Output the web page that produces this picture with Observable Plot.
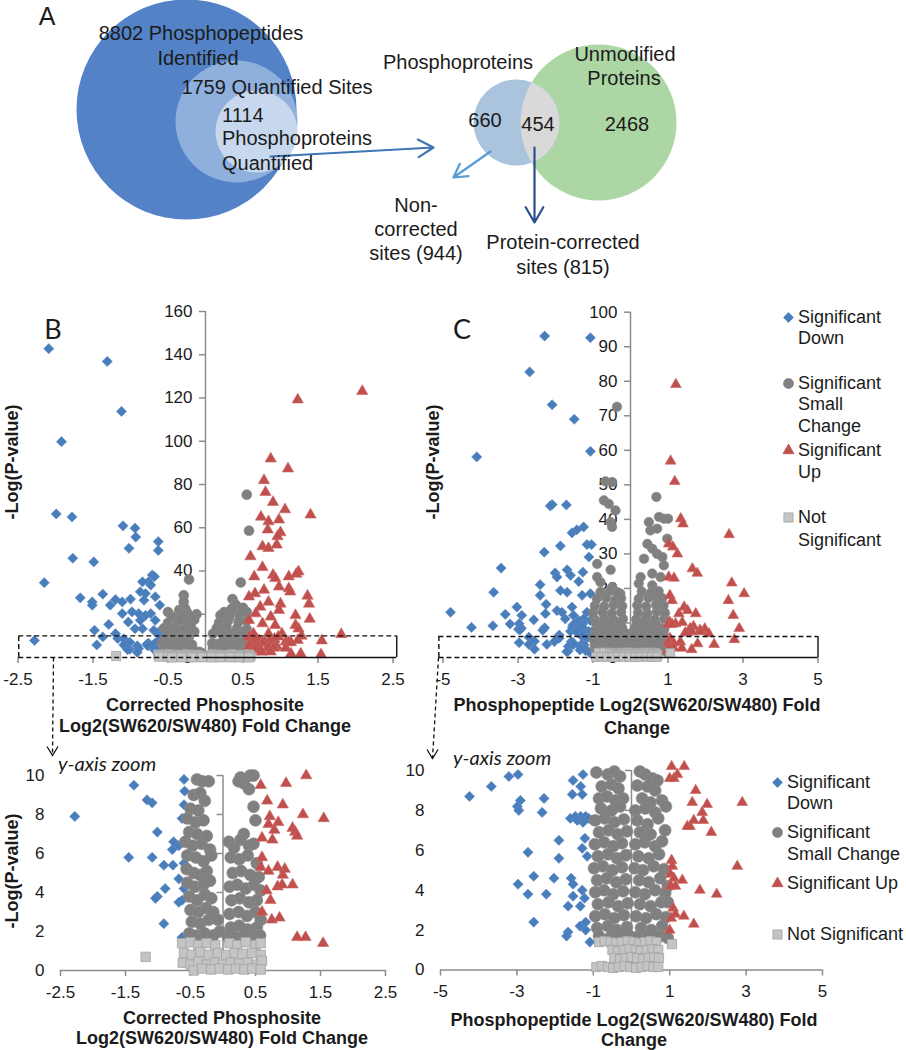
<!DOCTYPE html>
<html><head><meta charset="utf-8">
<script src="https://cdn.jsdelivr.net/npm/d3@7"></script>
<script src="https://cdn.jsdelivr.net/npm/@observablehq/plot@0.6"></script>
<style>
body{margin:0;background:#fff;}
#root{position:relative;width:906px;height:1050px;overflow:hidden;background:#fff;font-family:"Liberation Sans",Arial,sans-serif;color:#1b1b1b;}
.lbl{position:absolute;white-space:nowrap;line-height:1;}
</style></head><body><div id="root"></div>
<script>
// ---------------- DATA ----------------
// Panel A counts
const venn1Labels = ["Phosphopeptides Identified", "Quantified Sites", "Phosphoproteins Quantified"];
const venn1Counts = [8802, 1759, 1114];
const venn2Regions = ["Phosphoproteins only", "Phosphoproteins & Unmodified Proteins", "Unmodified Proteins only"];
const venn2Counts = [660, 454, 2468];
const siteGroups = ["Non-corrected sites", "Protein-corrected sites"];
const siteCounts = [944, 815];

// Category names (legend)
const categories = ["Significant Down", "Significant Small Change", "Significant Up", "Not Significant"];

// Tick labels
const B_xTicks = [-2.5, -1.5, -0.5, 0.5, 1.5, 2.5];
const B_yTicks = [0, 20, 40, 60, 80, 100, 120, 140, 160];
const C_xTicks = [-5, -3, -1, 1, 3, 5];
const C_yTicks = [0, 10, 20, 30, 40, 50, 60, 70, 80, 90, 100];
const zoom_yTicks = [0, 2, 4, 6, 8, 10];

// Panel B: corrected phosphosite [log2 fold change, -log(p)]
const B_down = [
[-2.09,142.8],[-1.31,136.9],[-1.12,113.8],[-1.92,99.8],[-1.99,66.4],[-1.78,65.0],[-1.10,60.9],[-0.94,59.8],[-0.93,55.7],[-1.02,50.5],
[-0.63,53.6],[-0.63,49.5],[-1.77,45.9],[-1.49,44.2],[-2.15,34.6],[-1.67,27.6],[-1.51,25.7],[-1.51,24.2],[-1.37,29.3],[-1.27,24.2],
[-1.20,26.8],[-1.11,25.7],[-1.00,27.0],[-0.87,30.4],[-0.80,29.6],[-0.82,26.5],[-0.67,28.1],[-0.76,35.0],[-0.84,35.0],[-0.71,38.1],
[-0.68,37.4],[-0.73,33.5],[-1.11,20.3],[-0.98,21.1],[-0.89,20.3],[-0.80,19.5],[-0.73,20.3],[-1.03,16.4],[-0.94,13.3],[-0.87,17.2],
[-0.84,13.3],[-0.67,17.2],[-0.61,24.2],[-1.29,15.3],[-1.48,12.6],[-1.20,11.0],[-0.62,11.0],[-0.69,12.6],[-0.58,13.3],
[-2.28,7.9],[-1.37,9.5],[-1.17,8.75],[-1.09,8.6],[-0.60,9.8],[-0.59,9.2],[-0.60,8.5],[-0.63,7.8],[-1.01,7.1],[-0.76,6.6],
[-0.78,6.2],[-0.68,6.4],[-1.45,5.8],[-1.09,5.8],[-0.91,5.4],[-0.77,5.4],[-0.60,5.5],[-0.68,4.7],[-0.60,4.2],[-0.89,4.2],
[-1.01,3.8],[-1.04,3.7],[-0.68,3.5],[-0.63,3.6],[-0.91,2.4],[-0.63,1.7]
];
const B_up = [
[2.09,123.1],[1.23,119.2],[0.87,91.9],[1.10,87.3],[0.78,81.9],[0.80,76.4],[0.90,71.8],[1.06,68.4],[1.40,66.0],[0.74,65.0],
[0.84,62.9],[0.98,63.7],[0.83,59.1],[1.00,57.8],[0.96,56.0],[0.76,51.3],[0.84,50.5],[0.95,52.1],[0.60,46.7],[0.76,41.7],
[0.65,37.4],[0.90,38.1],[0.93,36.6],[1.11,37.4],[1.24,39.7],[1.21,38.6],[0.98,32.7],[1.11,31.9],[1.13,30.4],[0.78,31.2],
[0.66,29.6],[0.58,28.1],[1.36,28.5],[1.38,24.8],[1.39,17.8],[0.84,25.7],[1.00,24.8],[0.98,21.9],[0.73,23.4],[0.67,20.3],
[0.87,18.8],[1.20,19.5],[0.58,17.2],[0.76,15.7],[0.93,14.9],[1.20,14.9],[1.24,13.3],[0.64,11.0],[0.84,11.0],[1.02,11.0],[1.81,10.7],
[1.28,10.0],[0.58,9.5],[0.97,9.6],[0.68,8.7],[0.92,8.5],[1.23,8.0],[1.55,7.8],[0.72,7.9],[0.85,7.6],[0.70,7.5],
[0.79,7.2],[1.07,7.3],[1.11,7.1],[1.14,6.9],[0.60,6.8],[0.76,6.7],[0.60,5.8],[0.58,5.3],[0.70,5.1],[0.84,5.3],
[0.95,5.2],[0.92,4.9],[0.84,4.3],[0.91,4.4],[1.07,4.4],[0.67,4.1],[0.73,3.6],[0.60,3.0],[0.75,2.6],[0.87,2.7],
[1.14,1.7],[1.27,1.7],[1.54,1.4]
];
const B_small = [
[-0.22,36.1],[-0.29,28.8],[-0.29,25.7],[0.55,75.3],[0.58,58.6],[0.47,34.7],[0.36,27.0],[0.40,24.5],[0.35,22.5],[0.50,23.0],
[0.25,21.0],[0.55,21.0],[0.45,20.0],[0.32,19.0],[0.20,19.5],[0.55,17.0],[0.44,16.5],[0.30,17.0],[0.18,16.0],[0.55,13.0],
[0.42,13.5],[0.28,14.0],[0.15,13.5],[0.48,11.5],[0.35,11.0],[0.22,11.5],[0.10,11.0],
[-0.50,21.0],[-0.35,22.0],[-0.27,22.5],[-0.12,20.0],[-0.22,19.5],[-0.32,20.0],[-0.45,19.0],[-0.30,18.5],[-0.15,17.5],
[-0.25,16.5],[-0.36,17.0],[-0.50,16.0],[-0.20,14.5],[-0.30,13.0],[-0.42,14.0],[-0.55,13.5],[-0.15,12.0],[-0.25,11.0],
[-0.38,11.5],[-0.50,11.0],
[-0.40,9.8],[-0.32,9.7],[-0.22,9.7],[-0.45,9.0],[-0.35,9.1],[-0.28,8.7],[-0.50,8.3],[-0.38,8.2],[-0.55,7.8],[-0.42,7.6],
[-0.30,7.7],[-0.52,7.1],[-0.40,7.0],[-0.25,6.9],[-0.58,6.6],[-0.47,6.4],[-0.33,6.5],[-0.20,6.2],[-0.55,5.9],[-0.42,5.8],
[-0.30,5.6],[-0.18,5.9],[-0.56,5.2],[-0.45,5.0],[-0.35,4.9],[-0.25,5.1],[-0.55,4.5],[-0.43,4.3],[-0.30,4.4],[-0.20,4.6],
[-0.52,3.8],[-0.40,3.6],[-0.28,3.9],[-0.18,3.7],[-0.50,3.1],[-0.38,3.0],[-0.26,3.2],[-0.15,3.0],[-0.48,2.5],[-0.35,2.4],
[-0.22,2.6],[-0.08,2.6],[-0.52,1.9],[-0.40,1.8],[-0.28,1.9],[-0.15,1.8],[-0.05,2.0],
[0.27,9.9],[0.42,10.0],[0.47,10.0],[0.32,9.6],[0.40,9.3],[0.24,9.7],[0.47,8.4],[0.50,7.7],[0.32,7.0],[0.09,6.6],
[0.17,6.3],[0.27,6.7],[0.40,6.4],[0.47,6.5],[0.12,5.8],[0.25,5.7],[0.38,5.9],[0.52,5.5],[0.15,5.0],[0.28,5.1],
[0.42,4.9],[0.55,4.8],[0.10,4.3],[0.22,4.4],[0.35,4.2],[0.48,4.4],[0.58,4.1],[0.13,3.6],[0.26,3.7],[0.40,3.5],
[0.52,3.6],[0.10,2.9],[0.24,3.0],[0.37,2.8],[0.50,3.0],[0.58,2.6],[0.12,2.2],[0.25,2.3],[0.38,2.1],[0.52,2.2],
[0.08,1.7],[0.20,1.7],[0.33,1.8],[0.47,1.7],[0.57,1.8]
];
const B_ns = [
[-1.19,0.7],
[-0.63,1.4],[-0.50,1.45],[-0.38,1.3],[-0.25,1.4],[-0.12,1.3],[0.10,1.4],[0.22,1.3],[0.35,1.45],[0.50,1.3],[0.58,1.4],
[-0.60,0.9],[-0.48,0.8],[-0.35,0.95],[-0.22,0.8],[-0.08,0.9],[0.05,0.8],[0.18,0.9],[0.30,0.85],[0.45,0.9],[0.58,0.8],
[-0.62,0.4],[-0.50,0.3],[-0.38,0.45],[-0.25,0.3],[-0.12,0.4],[0.00,0.3],[0.12,0.4],[0.25,0.35],[0.38,0.4],[0.52,0.3],[0.60,0.5],
[-0.45,0.0],[-0.32,0.1],[-0.18,0.05],[-0.05,0.1],[0.08,0.05],[0.20,0.1],[0.33,0.05],[0.45,0.1],[0.58,0.05]
];

// Panel C: phosphopeptide [log2 fold change, -log(p)]
const C_down = [
[-2.29,93.1],[-1.07,92.6],[-2.69,82.7],[-2.09,73.2],[-1.50,69.0],[-4.10,58.1],[-1.07,59.7],[-2.14,43.9],[-2.09,44.3],[-1.71,44.2],
[-1.56,36.1],[-1.43,37.0],[-1.25,37.8],[-2.30,30.5],[-1.87,32.3],[-1.16,32.7],[-1.04,32.7],[-1.11,29.1],[-3.45,25.9],[-2.01,24.5],
[-1.96,23.3],[-1.69,25.4],[-1.60,23.8],[-1.38,22.0],[-1.27,24.7],[-3.65,18.9],[-2.41,21.1],[-2.41,18.0],[-1.87,19.4],[-1.69,18.9],
[-1.29,18.0],[-1.07,18.5],[-4.80,13.1],[-3.34,12.5],[-3.03,14.6],[-2.90,12.2],[-2.58,10.9],[-2.25,15.4],[-2.27,12.7],[-1.96,13.6],
[-1.83,13.1],[-1.56,14.6],[-1.74,11.2],[-1.52,12.2],[-1.38,10.7],[-1.25,11.2],[-1.16,13.1],[-1.07,10.7],
[-4.24,8.7],[-3.67,9.2],[-3.21,9.7],[-2.97,9.8],[-2.91,8.5],[-2.99,8.2],[-2.95,8.0],[-2.29,8.6],[-2.34,7.9],[-1.27,9.8],
[-1.53,9.5],[-1.33,9.2],[-1.55,8.8],[-1.29,8.8],[-1.60,7.6],[-1.47,7.7],[-1.33,7.7],[-1.20,7.7],[-1.12,7.6],[-1.42,7.5],
[-1.27,7.4],[-1.03,7.5],[-1.90,6.5],[-1.22,6.6],[-1.29,6.1],[-2.71,5.9],[-1.90,5.6],[-1.16,5.7],[-2.56,4.7],[-2.03,4.6],
[-1.58,4.6],[-2.97,4.3],[-2.71,3.8],[-2.23,3.8],[-1.53,4.3],[-1.29,4.0],[-1.53,3.7],[-1.23,3.6],[-1.66,3.2],[-1.34,3.2],
[-2.56,2.4],[-1.66,1.9],[-1.70,1.7],[-1.35,2.2],[-1.20,2.0],[-1.09,1.4],[-1.20,2.4]
];
const C_up = [
[1.21,79.1],[1.07,56.9],[1.18,51.0],[1.34,40.2],[1.40,38.7],[1.02,32.9],[1.13,32.0],[1.25,30.0],[2.63,35.6],[1.65,25.7],
[1.78,24.4],[1.02,23.3],[1.16,23.0],[2.70,21.6],[3.03,18.5],[2.61,16.5],[1.05,18.0],[1.11,16.5],[2.74,12.2],[1.43,14.6],
[1.52,13.6],[1.74,12.7],[1.29,12.7],[1.05,10.2],[1.38,10.2],
[1.00,9.6],[1.20,9.8],[1.11,9.6],[1.68,9.0],[1.59,8.4],[1.98,8.3],[2.90,8.4],[1.85,7.9],[1.88,7.5],[1.63,7.5],
[1.53,7.2],[1.46,7.2],[2.09,6.9],[2.77,5.2],[1.05,5.5],[1.07,5.2],[1.02,4.8],[1.11,4.6],[1.33,4.5],[1.15,4.2],
[1.02,4.2],[1.79,4.0],[2.23,3.8],[1.09,3.1],[1.15,2.8],[1.37,2.7],[1.63,2.3],[1.04,2.6],[1.00,2.0]
];
const C_small = [
[-0.36,72.6],[-0.67,51.0],[-0.49,50.8],[-0.71,45.5],[-0.58,44.5],[-0.40,42.6],[-0.53,39.2],[-0.49,37.8],[0.69,46.5],[0.49,39.2],
[0.76,40.7],[0.89,40.2],[1.00,40.2],[0.53,36.8],[0.71,37.3],[0.98,34.4],[0.45,32.9],[0.58,31.5],[0.71,30.0],[0.85,29.1],
[0.89,26.7],[0.36,28.6],[0.27,23.3],[0.22,21.4],[0.58,24.3],[0.80,23.3],[0.58,20.9],[-0.89,27.1],[-0.53,25.4],[-0.89,23.3],
[-0.80,21.8],[-0.49,20.4],[-0.27,18.5],
[-0.95,11.0],[-0.70,11.3],[-0.45,10.9],[-0.20,11.2],[0.15,11.0],[0.40,11.4],[0.65,10.9],[0.90,11.2],
[-1.00,13.0],[-0.75,13.2],[-0.50,12.8],[-0.25,13.1],[0.20,13.0],[0.45,12.7],[0.70,13.2],[0.92,12.9],
[-0.95,15.0],[-0.70,14.8],[-0.45,15.2],[-0.22,14.9],[0.18,15.1],[0.42,14.8],[0.68,15.2],[0.88,15.0],
[-0.90,17.0],[-0.65,17.2],[-0.40,16.8],[-0.25,17.1],[0.22,17.0],[0.48,17.3],[0.72,16.9],[0.85,17.2],
[-0.80,19.0],[-0.55,19.3],[-0.35,18.9],[0.30,19.1],[0.55,18.8],[0.75,19.2],
[-0.92,9.9],[-0.62,9.8],[-0.45,9.95],[-0.30,9.7],[0.22,9.95],[0.36,9.8],[0.55,9.6],[0.68,9.5],
[-0.78,9.2],[-0.52,9.3],[-0.34,9.1],[0.15,9.25],[0.42,9.2],[0.62,9.0],
[-0.85,8.6],[-0.64,8.7],[-0.42,8.5],[-0.22,8.6],[0.28,8.6],[0.50,8.4],[0.80,8.5],
[-0.80,8.1],[-0.52,8.0],[-0.30,8.2],[0.10,8.0],[0.36,8.1],[0.62,7.9],[0.90,8.2],
[-0.95,7.5],[-0.70,7.6],[-0.45,7.4],[-0.20,7.55],[0.15,7.5],[0.42,7.3],[0.70,7.6],
[-0.85,6.9],[-0.60,7.0],[-0.36,6.8],[-0.12,6.95],[0.22,6.9],[0.50,6.8],[0.88,7.0],
[-0.96,6.3],[-0.72,6.4],[-0.48,6.2],[-0.25,6.35],[0.10,6.3],[0.35,6.4],[0.62,6.2],[0.80,6.45],
[-0.88,5.7],[-0.62,5.8],[-0.38,5.6],[-0.15,5.75],[0.18,5.7],[0.45,5.6],[0.72,5.8],
[-0.98,5.1],[-0.75,5.2],[-0.50,5.0],[-0.25,5.15],[0.08,5.1],[0.30,5.0],[0.58,5.2],[0.85,5.05],
[-0.90,4.5],[-0.65,4.6],[-0.40,4.4],[-0.15,4.55],[0.20,4.5],[0.45,4.4],[0.75,4.6],[0.95,4.2],
[-0.95,3.9],[-0.72,4.0],[-0.48,3.8],[-0.22,3.95],[0.10,3.9],[0.35,3.8],[0.62,4.0],[0.88,3.85],
[-0.88,3.3],[-0.60,3.4],[-0.35,3.2],[-0.10,3.35],[0.22,3.3],[0.50,3.2],[0.78,3.4],[0.95,3.4],
[-0.95,2.7],[-0.70,2.8],[-0.45,2.6],[-0.20,2.75],[0.12,2.7],[0.38,2.6],[0.65,2.8],[0.90,2.65],
[-0.90,2.1],[-0.62,2.2],[-0.38,2.0],[-0.12,2.15],[0.25,2.1],[0.52,2.0],[0.80,2.2],
[-0.85,1.7],[-0.55,1.65],[-0.30,1.75],[-0.05,1.7],[0.15,1.65],[0.45,1.75],[0.75,1.7],[0.95,1.6]
];
const C_ns = [
[1.06,1.3],
[-0.85,1.4],[-0.70,1.45],[-0.55,1.4],[-0.40,1.35],[-0.25,1.4],[-0.10,1.45],[0.05,1.4],[0.20,1.35],[0.35,1.4],[0.50,1.45],[0.65,1.4],
[-0.50,1.0],[-0.35,0.95],[-0.20,1.0],[-0.05,1.05],[0.10,1.0],[0.25,0.95],[0.40,1.0],[0.55,1.05],[0.70,1.0],
[-0.45,0.6],[-0.30,0.55],[-0.15,0.6],[0.00,0.65],[0.15,0.6],[0.30,0.55],[0.45,0.6],[0.60,0.65],[0.72,0.6],
[-0.92,0.15],[-0.78,0.2],[-0.62,0.15],[-0.48,0.1],[-0.33,0.15],[-0.18,0.2],[-0.03,0.15],[0.12,0.1],[0.27,0.15],[0.42,0.2],[0.57,0.15],[0.70,0.15]
];

// ---------------- STYLE / LAYOUT ----------------
const SANS = '"Liberation Sans", Arial, Helvetica, sans-serif';
const CAL = 'Lato, "Open Sans", sans-serif';
const INK = "#1b1b1b";
const AXIS = "#8c8c8c";
const COL = {down: "#4a7ebb", small: "#808080", up: "#c0504d", ns: "#c4c4c4", nsStroke: "#a3a3a3"};
const root = document.getElementById("root");

function place(node, left, top, w) {
  const d = document.createElement("div");
  d.style.cssText = `position:absolute;left:${left}px;top:${top}px;width:${w}px;`;
  d.appendChild(node);
  root.appendChild(d);
}
function lbl(text, x, y, o = {}) {
  const d = document.createElement("div");
  d.className = "lbl";
  d.textContent = text;
  const size = o.size || 20;
  d.style.left = x + "px"; d.style.top = y + "px";
  d.style.fontSize = size + "px";
  d.style.fontWeight = o.weight || "normal";
  d.style.fontStyle = o.italic ? "italic" : "normal";
  d.style.fontFamily = o.family || SANS;
  d.style.color = o.color || INK;
  const a = o.anchor || "middle";
  const tx = a === "middle" ? "-50%" : a === "end" ? "-100%" : "0";
  d.style.transform = `translate(${tx},-50%)` + (o.rotate ? ` rotate(${o.rotate}deg)` : "");
  root.appendChild(d);
}

// ---------------- OVERLAY (panel A, arrows, legend markers) ----------------
const vennLeft = [
  {cx: 186, cy: 109, r: 110, fill: "#5383c6"},
  {cx: 236, cy: 121, r: 61, fill: "#8fb0dd"},
  {cx: 256, cy: 131, r: 41, fill: "#c7d8ee"}
];
const vennRight = [
  {cx: 516, cy: 122, r: 43, fill: "#a9c4dc"},
  {cx: 598, cy: 122, r: 78, fill: "#acd6a3"}
];
const arrowsA = [
  {x1: 270, y1: 156, x2: 433, y2: 147, stroke: "#3f77b5"},
  {x1: 490, y1: 151, x2: 453, y2: 177, stroke: "#5b9bd5"},
  {x1: 534, y1: 147, x2: 534, y2: 222, stroke: "#2b4f8c"}
];
const zoomArrows = [
  {x1: 53, y1: 657, x2: 52, y2: 755},
  {x1: 438, y1: 657, x2: 432, y2: 758}
];
// open "V" arrow head pointing down, tip at the anchor point
const vHead = {draw(ctx) { ctx.moveTo(-5.5, -9); ctx.lineTo(0, 0); ctx.lineTo(5.5, -9); }};
const legendUpper = {x: 788, ys: [317, 383, 450, 517]};
const legendLower = {x: 777, ys: [782, 832, 883, 934]};
const legSyms = [
  {sym: "diamond2", fill: COL.down, stroke: COL.down, r: 4.4},
  {sym: "circle", fill: COL.small, stroke: COL.small, r: 5},
  {sym: "triangle", fill: COL.up, stroke: COL.up, r: 4.1},
  {sym: "square", fill: COL.ns, stroke: COL.nsStroke, r: 5.2}
];
const legendMarks = [];
for (const L of [legendUpper, legendLower]) {
  legSyms.forEach((s, i) => {
    legendMarks.push(Plot.dot([categories[i]], {x: L.x, y: L.ys[i], symbol: s.sym, r: s.r, fill: s.fill, stroke: s.stroke, strokeWidth: 0.8}));
  });
}

const overlay = Plot.plot({
  width: 906, height: 1050, margin: 0,
  x: {domain: [0, 906], range: [0, 906], axis: null},
  y: {domain: [0, 1050], range: [0, 1050], axis: null},
  r: {type: "linear", domain: [0, 200], range: [0, 200]},
  color: {type: "identity"},
  style: {background: "transparent", overflow: "visible"},
  marks: [
    Plot.dot(vennLeft, {x: "cx", y: "cy", r: "r", fill: "fill"}),
    Plot.dot(vennRight, {x: "cx", y: "cy", r: "r", fill: "fill"}),
    Plot.dot([vennRight[0]], {x: "cx", y: "cy", r: "r", fill: "#d9d9d9", ariaDescription: "lens"}),
    Plot.arrow(arrowsA, {x1: "x1", y1: "y1", x2: "x2", y2: "y2", stroke: "stroke", strokeWidth: 2.2, headLength: 12}),
    Plot.link(zoomArrows, {x1: "x1", y1: "y1", x2: "x2", y2: "y2", stroke: "#111", strokeWidth: 1.3, strokeDasharray: "4,3"}),
    Plot.dot(zoomArrows, {x: "x2", y: "y2", symbol: vHead, fill: "none", stroke: "#111", strokeWidth: 1.3}),
    ...legendMarks
  ]
});
{
  const s = d3.select(overlay);
  const g = vennRight[1];
  s.append("defs").append("clipPath").attr("id", "greenClip")
    .attr("clipPathUnits", "userSpaceOnUse")
    .append("circle")
    .attr("cx", overlay.scale("x").apply(g.cx))
    .attr("cy", overlay.scale("y").apply(g.cy))
    .attr("r", g.r);
  let lens = s.select('g[aria-description="lens"]');
  if (lens.empty()) {
    const dots = s.selectAll('g[aria-label="dot"]').nodes();
    lens = d3.select(dots[2]);
  }
  lens.attr("clip-path", "url(#greenClip)");
}
place(overlay, 0, 0, 906);

// ---------------- VOLCANO PLOTS ----------------
function volcano(o) {
  const pxX = (o.w - o.ml - o.mr) / (o.xd[1] - o.xd[0]);
  const pxY = (o.h - o.mt - o.mb) / (o.yd[1] - o.yd[0]);
  const keep = a => a.filter(d => d[1] <= o.yd[1] + 0.2);
  const P = {x: d => d[0], y: d => d[1]};
  const ax = {stroke: AXIS, strokeWidth: 1.5};
  const marks = [];
  marks.push(Plot.ruleX([0], {y1: 0, y2: o.yd[1], ...ax}));
  marks.push(Plot.ruleY(o.yTicks, {x1: -6 / pxX, x2: 0, ...ax}));
  if (o.zoom) marks.push(Plot.ruleY([0], {x1: o.xd[0], x2: o.xd[1], ...ax}));
  marks.push(Plot.ruleX(o.xTicks, {y1: 0, y2: -6 / pxY, ...ax}));
  marks.push(Plot.text(o.yTicks, {x: o.zoom ? o.xd[0] : 0, y: d => d, text: d => String(d), dx: o.zoom ? -16 : -13, textAnchor: "end", fontSize: 17, fill: INK}));
  marks.push(Plot.text(o.xTicks, {x: d => d, y: 0, text: d => String(d), dy: 22, fontSize: 17, fill: INK}));
  marks.push(Plot.dot(keep(o.down), {...P, symbol: "diamond2", r: o.r.down, fill: COL.down, stroke: "#5a8ccb", strokeWidth: 0.6}));
  marks.push(Plot.dot(keep(o.small), {...P, symbol: "circle", r: o.r.small, fill: COL.small, stroke: "#8a8a8a", strokeWidth: 0.6}));
  marks.push(Plot.dot(keep(o.up), {...P, symbol: "triangle", r: o.r.up, fill: COL.up, stroke: "#cc6461", strokeWidth: 0.6}));
  marks.push(Plot.dot(keep(o.ns), {...P, symbol: "square", r: o.r.ns, fill: COL.ns, stroke: COL.nsStroke, strokeWidth: 0.8}));
  if (o.rect) {
    const R = o.rect;
    const dash = {stroke: "#111", strokeWidth: 1.4, strokeDasharray: "5,3"};
    const solid = {stroke: "#111", strokeWidth: 1.4};
    marks.push(Plot.ruleY([R.top], {x1: R.left, x2: R.right, ...dash}));
    marks.push(Plot.ruleX([R.left], {y1: 0, y2: R.top, ...dash}));
    marks.push(Plot.ruleX([R.right], {y1: 0, y2: R.top, ...solid}));
    marks.push(Plot.ruleY([0], {x1: R.left, x2: 0, ...dash}));
    marks.push(Plot.ruleY([0], {x1: 0, x2: R.right, ...solid}));
  }
  return Plot.plot({
    width: o.w, height: o.h,
    marginLeft: o.ml, marginRight: o.mr, marginTop: o.mt, marginBottom: o.mb,
    x: {domain: o.xd, axis: null},
    y: {domain: o.yd, axis: null},
    style: {background: "transparent", overflow: "visible", fontFamily: SANS},
    marks
  });
}

place(volcano({
  w: 420, h: 420, ml: 17.5, mr: 27.5, mt: 21, mb: 53,
  xd: [-2.5, 2.5], yd: [0, 160], xTicks: B_xTicks, yTicks: B_yTicks,
  down: B_down, small: B_small, up: B_up, ns: B_ns,
  r: {down: 4.6, small: 5, up: 4.2, ns: 5.2},
  rect: {left: -2.49, right: 2.55, top: 10}
}), 0, 290, 420);

place(volcano({
  w: 486, h: 420, ml: 22.5, mr: 88.5, mt: 21.7, mb: 53,
  xd: [-5, 5], yd: [0, 100], xTicks: C_xTicks, yTicks: C_yTicks,
  down: C_down, small: C_small, up: C_up, ns: C_ns,
  r: {down: 4.6, small: 4.8, up: 4.0, ns: 5.0},
  rect: {left: -5.11, right: 5.0, top: 6.1}
}), 420, 290, 486);

place(volcano({
  w: 420, h: 310, ml: 60, mr: 35, mt: 35, mb: 80,
  xd: [-2.5, 2.5], yd: [0, 10], xTicks: B_xTicks, yTicks: zoom_yTicks, zoom: true,
  down: B_down, small: B_small, up: B_up, ns: B_ns,
  r: {down: 4.6, small: 6, up: 4.2, ns: 5.3}
}), 0, 740, 420);

place(volcano({
  w: 506, h: 310, ml: 40, mr: 84, mt: 30, mb: 80.5,
  xd: [-5, 5], yd: [0, 10], xTicks: C_xTicks, yTicks: zoom_yTicks, zoom: true,
  down: C_down, small: C_small, up: C_up, ns: C_ns,
  r: {down: 4.6, small: 6, up: 4.0, ns: 5.2}
}), 400, 740, 506);

// ---------------- TEXT ----------------
lbl("A", 47, 16, {size: 25});
lbl("B", 53, 328, {size: 27, family: CAL});
lbl("C", 462, 328, {size: 27, family: CAL});

lbl(`${venn1Counts[0]} Phosphopeptides`, 201, 33);
lbl("Identified", 198, 58);
lbl(`${venn1Counts[1]} Quantified Sites`, 277, 87);
lbl(`${venn1Counts[2]}`, 222, 115, {anchor: "start"});
lbl("Phosphoproteins", 222, 138, {anchor: "start"});
lbl("Quantified", 222, 163, {anchor: "start"});

lbl("Phosphoproteins", 458, 62);
lbl("Unmodified", 625, 54);
lbl("Proteins", 624, 78);
lbl(String(venn2Counts[0]), 485, 120);
lbl(String(venn2Counts[1]), 538, 124);
lbl(String(venn2Counts[2]), 627, 124);

lbl("Non-", 416, 205);
lbl("corrected", 416, 229);
lbl(`sites (${siteCounts[0]})`, 416, 253);
lbl("Protein-corrected", 563, 242);
lbl(`sites (${siteCounts[1]})`, 563, 267);

const bold = {size: 18, weight: "bold"};
lbl("Corrected Phosphosite", 205, 705, bold);
lbl("Log2(SW620/SW480) Fold Change", 205, 726, bold);
lbl("Phosphopeptide Log2(SW620/SW480) Fold", 637, 705, bold);
lbl("Change", 637, 728, bold);
lbl("Corrected Phosphosite", 222, 1018, bold);
lbl("Log2(SW620/SW480) Fold Change", 222, 1038, bold);
lbl("Phosphopeptide Log2(SW620/SW480) Fold", 634, 1020, bold);
lbl("Change", 634, 1040, bold);

lbl("-Log(P-value)", 12, 462, {...bold, rotate: -90});
lbl("-Log(P-value)", 433, 462, {...bold, rotate: -90});
lbl("-Log(P-value)", 12, 871, {...bold, rotate: -90});

lbl("y-axis zoom", 58, 763, {size: 20, italic: true, family: CAL, anchor: "start"});
lbl("y-axis zoom", 453, 757, {size: 20, italic: true, family: CAL, anchor: "start"});

// legends
const leg = {size: 18, anchor: "start"};
[["Significant", 317], ["Down", 338], ["Significant", 383], ["Small", 404], ["Change", 426],
 ["Significant", 450], ["Up", 472], ["Not", 517], ["Significant", 540]].forEach(([t, y]) => lbl(t, 798, y, leg));
[["Significant", 782], ["Down", 803], ["Significant", 832], ["Small Change", 854],
 ["Significant Up", 883], ["Not Significant", 934]].forEach(([t, y]) => lbl(t, 787, y, leg));
</script></body></html>
